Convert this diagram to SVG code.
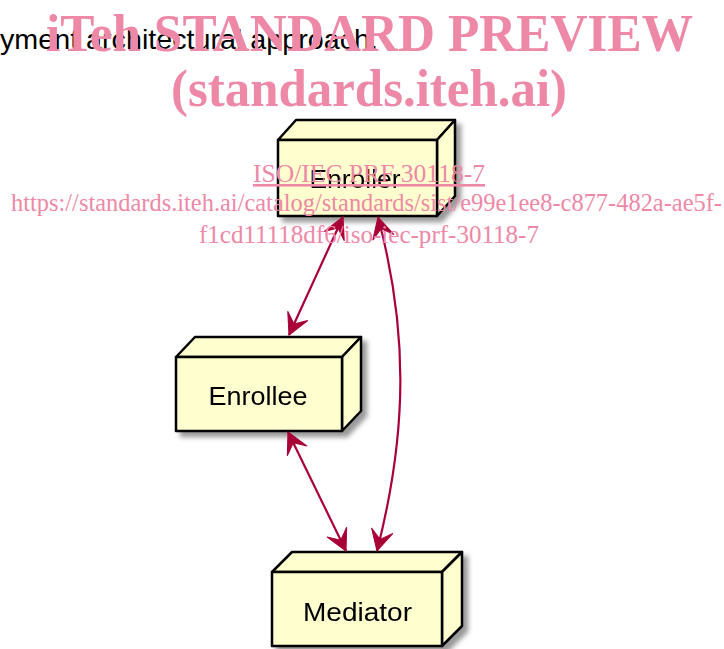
<svg xmlns="http://www.w3.org/2000/svg" width="724" height="649" viewBox="0 0 724 649">
  <style>
    .face { fill: #FEFECE; stroke: #000; stroke-width: 2.5; stroke-linejoin: round; }
    .label { font-family: "Liberation Sans", Arial, sans-serif; font-size: 25px; fill: #000; text-anchor: middle; }
    .heading { font-family: "Liberation Sans", Arial, sans-serif; font-size: 28px; fill: #000; }
    .link { fill: none; stroke: #A80036; stroke-width: 2.2; }
    .wm-big { font-family: "Liberation Serif", "Times New Roman", serif; font-weight: bold; fill: #EE88A7; }
    .wm-small { font-family: "Liberation Serif", "Times New Roman", serif; fill: #EE88A7; font-size: 26px; }
  </style>
  <defs>
    <filter id="shadow" x="-10%" y="-10%" width="130%" height="140%">
      <feDropShadow dx="5" dy="5" stdDeviation="2.5" flood-color="#000" flood-opacity="0.4"/>
    </filter>
    <marker id="head" viewBox="-23 -13 24 26" refX="0" refY="0" markerWidth="24" markerHeight="26" markerUnits="userSpaceOnUse" orient="auto-start-reverse">
      <path d="M0,0 L-21,-11 L-12,0 L-21,11 Z" fill="#A80036" stroke="#A80036" stroke-width="1" stroke-linejoin="miter"/>
    </marker>
  </defs>

  <rect width="724" height="649" fill="#fff"/>

  <text class="heading" x="0" y="49" textLength="378" lengthAdjust="spacingAndGlyphs">yment architectural approach.</text>

  <!-- deployment nodes drawn as 3D boxes -->
  <g id="enroller" filter="url(#shadow)">
    <polygon class="face" points="278,140 296,120 455,120 437,140"/>
    <polygon class="face" points="437,140 455,120 455,196 437,216"/>
    <rect class="face" x="278" y="140" width="159" height="76"/>
    <text class="label" x="355" y="188" textLength="91" lengthAdjust="spacingAndGlyphs">Enroller</text>
  </g>

  <g id="enrollee" filter="url(#shadow)">
    <polygon class="face" points="176,357 195,337 361,337 342,357"/>
    <polygon class="face" points="342,357 361,337 361,411 342,431"/>
    <rect class="face" x="176" y="357" width="166" height="74"/>
    <text class="label" x="258" y="405" textLength="99" lengthAdjust="spacingAndGlyphs">Enrollee</text>
  </g>

  <g id="mediator" filter="url(#shadow)">
    <polygon class="face" points="272,572 292,552 462,552 442,572"/>
    <polygon class="face" points="442,572 462,552 462,626 442,646"/>
    <rect class="face" x="272" y="572" width="170" height="74"/>
    <text class="label" x="357.5" y="621" textLength="109" lengthAdjust="spacingAndGlyphs">Mediator</text>
  </g>

  <!-- bidirectional links -->
  <g id="connectors">
    <path class="link" d="M343,217 L289,335" marker-start="url(#head)" marker-end="url(#head)"/>
    <path class="link" d="M288,432 L346,551" marker-start="url(#head)" marker-end="url(#head)"/>
    <path class="link" d="M378,217 C408,330 408,430 377,551" marker-start="url(#head)" marker-end="url(#head)"/>
  </g>

  <!-- overlay lettering -->
  <g id="overlay">
    <text class="wm-big" x="46" y="51" font-size="53" textLength="647" lengthAdjust="spacingAndGlyphs">iTeh STANDARD PREVIEW</text>
    <text class="wm-big" x="171" y="106" font-size="52" textLength="396" lengthAdjust="spacingAndGlyphs">(standards.iteh.ai)</text>
    <text class="wm-small" x="253" y="182" textLength="232" lengthAdjust="spacingAndGlyphs" text-decoration="underline">ISO/IEC PRF 30118-7</text>
    <text class="wm-small" x="11" y="211" textLength="711" lengthAdjust="spacingAndGlyphs">https://standards.iteh.ai/catalog/standards/sist/e99e1ee8-c877-482a-ae5f-</text>
    <text class="wm-small" x="199" y="243" textLength="340" lengthAdjust="spacingAndGlyphs">f1cd11118df6/iso-iec-prf-30118-7</text>
  </g>
</svg>
